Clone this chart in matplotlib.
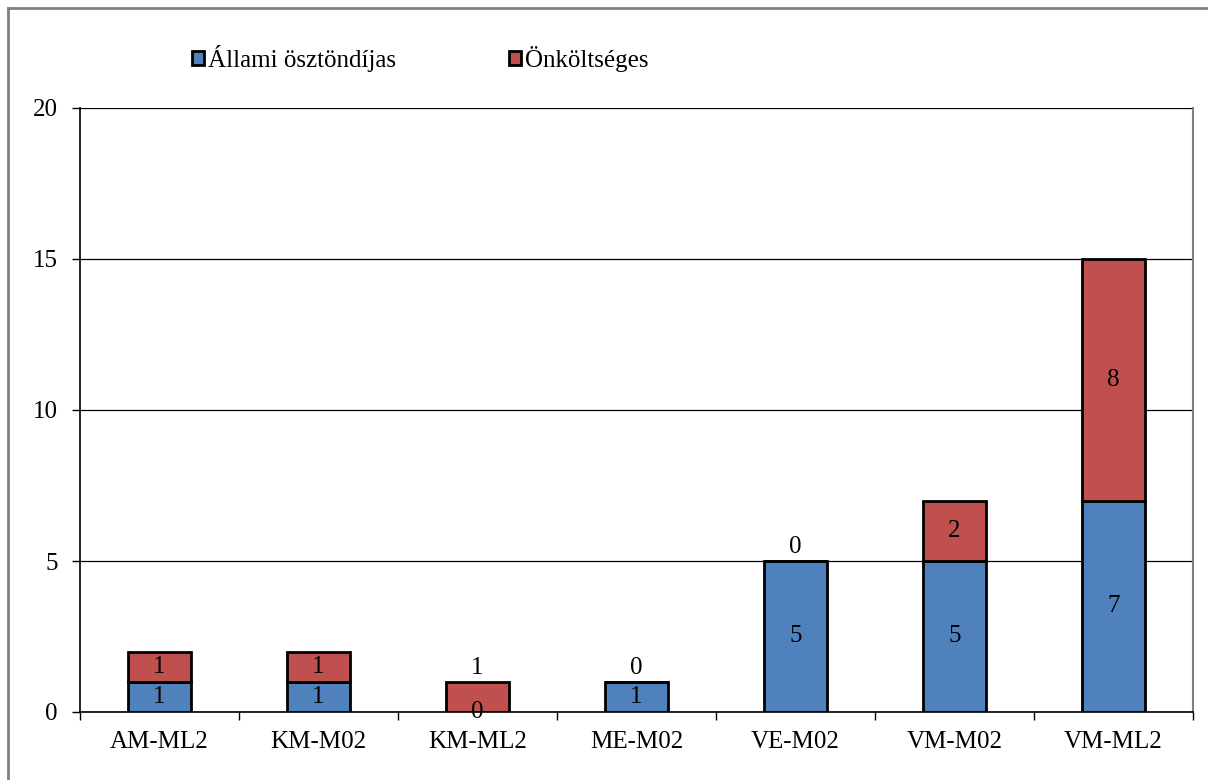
import numpy as np
import matplotlib.pyplot as plt
from matplotlib.lines import Line2D

plt.rcParams['font.family'] = ['Liberation Serif', 'DejaVu Serif']

categories = ['AM-ML2', 'KM-M02', 'KM-ML2', 'ME-M02', 'VE-M02', 'VM-M02', 'VM-ML2']
allami = [1, 1, 0, 1, 5, 5, 7]
onkoltseges = [1, 1, 1, 0, 0, 2, 8]
series_names = ['Állami ösztöndíjas', 'Önköltséges']

blue = '#4F81BD'
red = '#C0504D'
fs = 18

fig = plt.figure(figsize=(12.08, 7.8), dpi=100)
ax = fig.add_axes([80/1208, 1-712/780, (1193-80)/1208, (712-108)/780])

x = np.arange(len(categories))
b1 = ax.bar(x, allami, width=0.4, color=blue, edgecolor='black', linewidth=2, zorder=3,
            label=series_names[0])
b2 = ax.bar(x, onkoltseges, width=0.4, bottom=allami, color=red, edgecolor='black',
            linewidth=2, zorder=3, label=series_names[1])

# feliratok
for i in range(len(categories)):
    a = allami[i]
    o = onkoltseges[i]
    ax.text(x[i], a/2, str(a), ha='center', va='center', fontsize=fs, zorder=5)
    if a == 0 or o == 0:
        ax.annotate(str(o), (x[i], a+o), xytext=(0, 2), textcoords='offset points',
                    ha='center', va='bottom', fontsize=fs, zorder=5)
    else:
        ax.text(x[i], a + o/2, str(o), ha='center', va='center', fontsize=fs, zorder=5)

ax.set_xlim(-0.5, len(categories)-0.5)
ax.set_ylim(0, 20)
ax.set_yticks([0, 5, 10, 15, 20])
ax.yaxis.grid(True, color='black', linewidth=0.9, zorder=0)
ax.set_axisbelow(True)

ax.set_xticks(x)
ax.set_xticklabels(categories, fontsize=fs)
ax.set_xticks(np.arange(len(categories)+1) - 0.5, minor=True)
ax.tick_params(axis='x', which='major', length=0, pad=14)
ax.tick_params(axis='x', which='minor', length=6, width=1, direction='out', color='black')
ax.tick_params(axis='y', length=6, width=1, direction='out', labelsize=fs, pad=10)

for s in ['left', 'bottom']:
    ax.spines[s].set_color('black')
    ax.spines[s].set_linewidth(1.2)
ax.spines['top'].set_visible(False)
ax.spines['right'].set_color('#808080')
ax.spines['right'].set_linewidth(1.5)

leg = fig.legend(handles=[b1, b2], loc='center', bbox_to_anchor=(420/1208, 1-58/780),
                 ncol=2, frameon=False, fontsize=fs, handlelength=0.5, handleheight=0.5,
                 handletextpad=0.15, columnspacing=4.5)

# keret
fig.add_artist(Line2D([8/1208, 8/1208], [0, 1-8/780], color='#808080', linewidth=2))
fig.add_artist(Line2D([8/1208, 1], [1-8/780, 1-8/780], color='#808080', linewidth=2))

fig.savefig('out.png', dpi=100)
